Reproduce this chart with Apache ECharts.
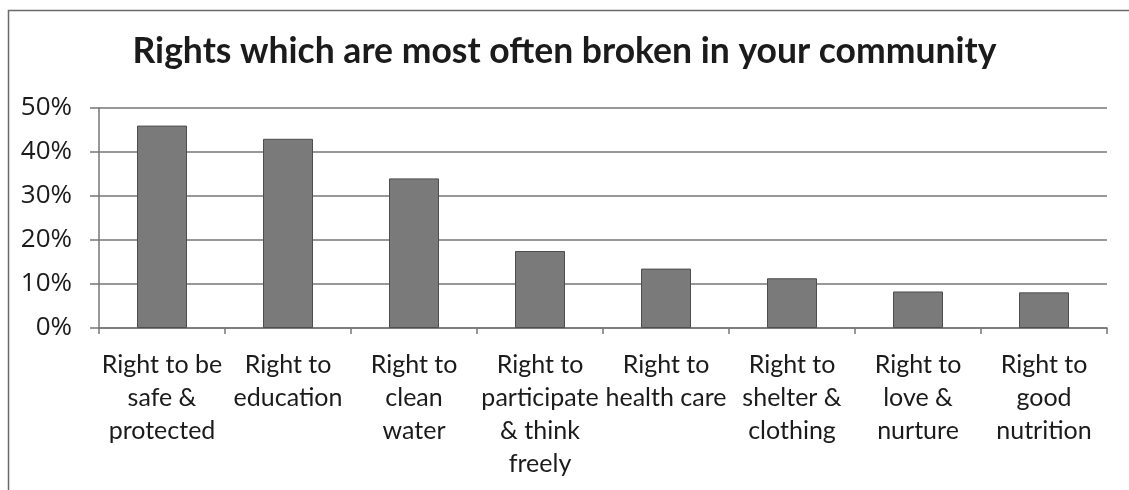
<!DOCTYPE html>
<html>
<head>
<meta charset="utf-8">
<script src="https://cdn.jsdelivr.net/npm/echarts@6/dist/echarts.min.js"></script>
<style>
  html, body { margin: 0; padding: 0; background: #ffffff; }
  #chart { width: 1129px; height: 490px; }
</style>
</head>
<body>
<div id="chart"></div>
<script>
// Survey results: share of respondents naming each right as most often broken
const categories = [
  'Right to be\nsafe &\nprotected',
  'Right to\neducation',
  'Right to\nclean\nwater',
  'Right to\nparticipate\n& think\nfreely',
  'Right to\nhealth care',
  'Right to\nshelter &\nclothing',
  'Right to\nlove &\nnurture',
  'Right to\ngood\nnutrition'
];
const shares = [0.46, 0.43, 0.34, 0.175, 0.135, 0.113, 0.083, 0.081];
const yTicks = [0, 0.1, 0.2, 0.3, 0.4, 0.5];

const textColor = '#1b1b1b';
const lineColor = '#767676';
const fontFamily = 'Lato, "Open Sans", sans-serif';
const numberFont = '"Open Sans", Lato, sans-serif';

const chart = echarts.init(document.getElementById('chart'), null, { renderer: 'canvas' });

chart.setOption({
  backgroundColor: '#ffffff',
  animation: false,
  title: {
    text: 'Rights which are most often broken in your community',
    left: 'center',
    top: 29,
    textStyle: {
      fontFamily: fontFamily,
      fontWeight: 'bold',
      fontSize: 35.5,
      color: textColor
    }
  },
  grid: { left: 99, right: 22, top: 108, bottom: 162, containLabel: false },
  xAxis: {
    type: 'category',
    data: categories,
    boundaryGap: true,
    axisLine: { lineStyle: { color: lineColor, width: 1.5 } },
    axisTick: { show: true, alignWithLabel: false, length: 6, lineStyle: { color: lineColor, width: 1.5 } },
    axisLabel: {
      interval: 0,
      margin: 20,
      fontFamily: fontFamily,
      fontSize: 25,
      lineHeight: 33,
      color: textColor,
      align: 'center'
    }
  },
  yAxis: {
    type: 'value',
    min: yTicks[0],
    max: yTicks[yTicks.length - 1],
    interval: 0.1,
    axisLine: { show: true, lineStyle: { color: lineColor, width: 1.5 } },
    axisTick: { show: true, inside: false, length: 9, lineStyle: { color: lineColor, width: 1.5 } },
    splitLine: { show: true, lineStyle: { color: lineColor, width: 1.5 } },
    axisLabel: {
      margin: 27,
      fontFamily: numberFont,
      fontSize: 26,
      color: textColor,
      formatter: v => Math.round(v * 100) + '%'
    }
  },
  series: [{
    type: 'bar',
    data: shares,
    barWidth: 50,
    itemStyle: { color: '#7a7a7a', borderColor: '#4e4e4e', borderWidth: 1 }
  }],
  graphic: [{
    type: 'polyline',
    silent: true,
    shape: { points: [[8.5, 490], [8.5, 10.5], [1129, 10.5]] },
    style: { stroke: '#6a6a6a', lineWidth: 1.5, fill: null }
  }]
});
</script>
</body>
</html>
